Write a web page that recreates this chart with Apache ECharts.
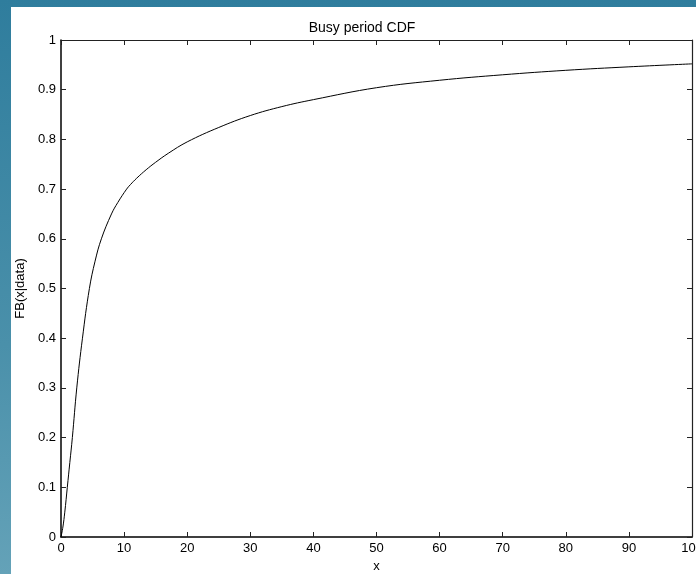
<!DOCTYPE html>
<html>
<head>
<meta charset="utf-8">
<script src="https://cdn.jsdelivr.net/npm/echarts@6/dist/echarts.min.js"></script>
<style>
  html, body { margin: 0; padding: 0; width: 696px; height: 574px; overflow: hidden;
    background: linear-gradient(to bottom, #2f7d9d 0%, #4a90aa 60%, #64a2b8 100%); }
  #chart { position: absolute; left: 11px; top: 7px; width: 685px; height: 567px; background: #ffffff; }
</style>
</head>
<body>
<div id="chart"></div>
<script>
const titleText = "Busy period CDF";
const xName = "x";
const yName = "FB(x|data)";
const xs = [0, 0.3, 0.6, 1.0, 1.4, 1.8, 2.5, 3.4, 4.5, 5.4, 6.4, 8, 9, 10.4, 11, 12, 13.5, 15, 17, 20, 25, 30, 35, 40, 50, 60, 70, 80, 90, 100];
const ys = [0, 0.02, 0.05, 0.1, 0.15, 0.2, 0.3, 0.4, 0.5, 0.555, 0.6, 0.65, 0.673, 0.70, 0.709, 0.722, 0.739, 0.754, 0.772, 0.795, 0.824, 0.848, 0.866, 0.880, 0.904, 0.919, 0.930, 0.939, 0.946, 0.952];

const data = xs.map((x, i) => [x, ys[i]]);
const font = "'Liberation Sans', Arial, sans-serif";
const chart = echarts.init(document.getElementById('chart'), null, { renderer: 'canvas' });
chart.setOption({
  animation: false,
  backgroundColor: 'transparent',
  textStyle: { fontFamily: font },
  title: {
    text: titleText, left: 346, top: 9, textAlign: 'center',
    textStyle: { fontFamily: font, fontSize: 14, fontWeight: 'normal', color: '#000' }
  },
  grid: { left: 50, top: 33, right: 4, bottom: 37, containLabel: false, outerBoundsMode: 'none' },
  xAxis: [{
    type: 'value', min: 0, max: 100, interval: 10, position: 'bottom',
    name: xName, nameLocation: 'middle', nameGap: 20,
    nameTextStyle: { fontFamily: font, fontSize: 13, color: '#000' },
    axisLine: { onZero: false, lineStyle: { color: '#000', width: 1.5 } },
    axisTick: { inside: true, length: 5, lineStyle: { color: '#222' } },
    axisLabel: { fontFamily: font, fontSize: 13, color: '#000', margin: 5 },
    splitLine: { show: false }
  }, {
    type: 'value', min: 0, max: 100, interval: 10, position: 'top',
    axisLine: { onZero: false, lineStyle: { color: '#222', width: 1.2 } },
    axisTick: { inside: true, length: 5, lineStyle: { color: '#222' } },
    axisLabel: { show: false }, splitLine: { show: false }
  }],
  yAxis: [{
    type: 'value', min: 0, max: 1, interval: 0.1, position: 'left',
    name: yName, nameLocation: 'middle', nameGap: 29, nameRotate: 90,
    nameTextStyle: { fontFamily: font, fontSize: 13, color: '#000' },
    axisLine: { onZero: false, lineStyle: { color: '#000', width: 1.5 } },
    axisTick: { inside: true, length: 5, lineStyle: { color: '#222' } },
    axisLabel: { fontFamily: font, fontSize: 13, color: '#000', margin: 5,
      formatter: v => String(Math.round(v * 10) / 10) },
    splitLine: { show: false }
  }, {
    type: 'value', min: 0, max: 1, interval: 0.1, position: 'right',
    axisLine: { onZero: false, lineStyle: { color: '#222', width: 1.2 } },
    axisTick: { inside: true, length: 5, lineStyle: { color: '#222' } },
    axisLabel: { show: false }, splitLine: { show: false }
  }],
  series: [{
    type: 'line', data: data, smooth: 0.4, showSymbol: false, symbol: 'none',
    lineStyle: { color: '#000', width: 1 }, xAxisIndex: 0, yAxisIndex: 0
  }]
});
</script>
</body>
</html>
